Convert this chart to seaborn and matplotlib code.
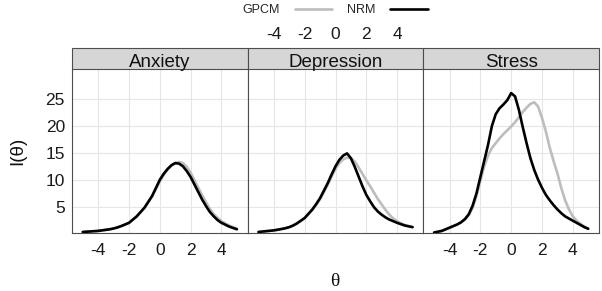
import numpy as np
import pandas as pd
import matplotlib
matplotlib.use('Agg')
import matplotlib.pyplot as plt
from matplotlib.patches import Rectangle
from matplotlib.lines import Line2D
import seaborn as sns

sns.set_style('white')
plt.rcParams['font.family'] = ['Liberation Sans', 'DejaVu Sans']
plt.rcParams['axes.unicode_minus'] = False

theta = np.arange(-5, 5.01, 0.25)
scales = ['Anxiety', 'Depression', 'Stress']
models = ['GPCM', 'NRM']

anx_nrm = [0.30, 0.35, 0.40, 0.45, 0.50, 0.60, 0.70, 0.80, 0.95, 1.15, 1.40, 1.70, 2.00, 2.60,
           3.20, 4.00, 4.80, 5.90, 7.00, 8.50, 10.0, 11.1, 12.0, 12.7, 13.1, 13.0, 12.5, 11.6,
           10.5, 9.10, 7.70, 6.30, 5.10, 4.00, 3.20, 2.50, 2.00, 1.65, 1.30, 1.05, 0.80]
anx_gpcm = [0.30, 0.35, 0.40, 0.45, 0.50, 0.60, 0.70, 0.80, 0.95, 1.15, 1.40, 1.70, 2.00, 2.60,
            3.20, 4.00, 4.80, 5.80, 6.90, 8.30, 9.70, 10.9, 11.9, 12.6, 13.1, 13.3, 13.1, 12.4,
            11.3, 9.90, 8.50, 7.10, 5.80, 4.60, 3.60, 2.90, 2.30, 1.90, 1.50, 1.20, 0.90]
dep_nrm = [0.30, 0.38, 0.45, 0.52, 0.60, 0.72, 0.85, 1.00, 1.20, 1.50, 1.90, 2.40, 2.90, 3.70,
           4.50, 5.50, 6.60, 8.00, 9.40, 11.0, 12.5, 13.7, 14.5, 14.9, 14.0, 12.4, 10.6, 8.80,
           7.20, 6.00, 4.90, 4.10, 3.50, 3.00, 2.60, 2.30, 2.00, 1.75, 1.50, 1.35, 1.20]
dep_gpcm = [0.30, 0.38, 0.45, 0.52, 0.60, 0.72, 0.85, 1.00, 1.20, 1.50, 1.90, 2.35, 2.85, 3.60,
            4.40, 5.35, 6.40, 7.70, 9.10, 10.6, 12.0, 13.1, 13.8, 14.1, 14.0, 13.4, 12.3, 11.1,
            9.90, 8.80, 7.60, 6.40, 5.40, 4.40, 3.50, 2.80, 2.30, 1.90, 1.60, 1.40, 1.20]
str_nrm = [0.20, 0.35, 0.50, 0.80, 1.10, 1.40, 1.70, 2.10, 2.70, 3.60, 5.20, 7.50, 10.5, 13.5,
           16.5, 20.0, 22.2, 23.3, 24.0, 24.8, 26.1, 25.5, 23.0, 19.8, 16.8, 14.0, 11.8, 10.0,
           8.50, 7.20, 6.20, 5.30, 4.50, 3.80, 3.20, 2.80, 2.40, 2.00, 1.60, 1.20, 0.90]
str_gpcm = [0.20, 0.35, 0.50, 0.80, 1.10, 1.40, 1.70, 2.10, 2.60, 3.40, 4.80, 7.00, 9.80, 12.5,
            14.5, 15.9, 16.8, 17.7, 18.5, 19.2, 19.9, 20.7, 21.6, 22.6, 23.4, 24.1, 24.4, 23.6,
            21.5, 19.0, 16.0, 13.5, 11.2, 8.50, 6.20, 4.50, 3.20, 2.40, 1.80, 1.30, 0.90]

curves = {
    ('Anxiety', 'GPCM'): anx_gpcm, ('Anxiety', 'NRM'): anx_nrm,
    ('Depression', 'GPCM'): dep_gpcm, ('Depression', 'NRM'): dep_nrm,
    ('Stress', 'GPCM'): str_gpcm, ('Stress', 'NRM'): str_nrm,
}
rows = []
for (sc, m), vals in curves.items():
    for t, v in zip(theta, vals):
        rows.append({'scale': sc, 'model': m, 'theta': t, 'info': v})
df = pd.DataFrame(rows)

palette = {'GPCM': '#bdbdbd', 'NRM': 'black'}
edge = '#4d4d4d'
strip_h = 21 / 164

fig, axes = plt.subplots(1, 3, figsize=(6.02, 2.91), dpi=100, sharey=True)
fig.subplots_adjust(left=72 / 602, right=599 / 602, bottom=1 - 233 / 291, top=1 - 69 / 291, wspace=0)

for i, (ax, sc) in enumerate(zip(axes, scales)):
    sub = df[df['scale'] == sc]
    sns.lineplot(data=sub, x='theta', y='info', hue='model', hue_order=models,
                 palette=palette, linewidth=1.9, estimator=None, sort=False,
                 legend=False, ax=ax)
    ax.set_xlim(-5.7, 5.7)
    ax.set_ylim(0.11, 30.58)
    ax.set_xticks([-4, -2, 0, 2, 4])
    ax.set_yticks([5, 10, 15, 20, 25])
    ax.grid(True, color='#e6e6e6', lw=0.8)
    ax.set_axisbelow(True)
    ax.set_xlabel('')
    ax.set_ylabel('')
    ax.spines['top'].set_visible(False)
    for s in ['left', 'right', 'bottom']:
        ax.spines[s].set_color(edge)
        ax.spines[s].set_linewidth(0.8)
    ax.tick_params(axis='x', direction='out', length=3.6, width=0.8, color=edge,
                   labelsize=12.5, pad=3.6, labelcolor='#1a1a1a')
    ax.tick_params(axis='y', direction='out', length=3.6, width=0.8, color=edge,
                   labelsize=12.5, pad=1.5, labelcolor='#1a1a1a')
    if i > 0:
        ax.tick_params(axis='y', left=False, labelleft=False)
    if i == 1:
        ax.tick_params(axis='x', labelbottom=False)
        sec = ax.secondary_xaxis(1 + strip_h)
        sec.set_xticks([-4, -2, 0, 2, 4])
        sec.tick_params(length=0, pad=4.3, labelsize=12.5, labelcolor='#1a1a1a')
        sec.spines['top'].set_visible(False)
    ax.add_patch(Rectangle((0, 1), 1, strip_h, transform=ax.transAxes, clip_on=False,
                           facecolor='#d6d6d6', edgecolor=edge, lw=0.8))
    ax.text(0.5, 1.012, sc, transform=ax.transAxes, ha='center', va='baseline',
            fontsize=13.5, color='#111111')

fig.text(18 / 602, 1 - 151 / 291, 'I(θ)', rotation=90, ha='center', va='center',
         fontsize=13.5, color='#111111')
fig.text(335 / 602, 1 - 282 / 291, 'θ', ha='center', va='center',
         fontsize=14, family=['Liberation Serif', 'DejaVu Serif'], color='#111111')

handles = [Line2D([], [], color=palette[m], lw=1.9) for m in models]
fig.legend(handles, models, loc='center', bbox_to_anchor=(335 / 602, 1 - 10 / 291),
           ncol=2, frameon=False, markerfirst=False, fontsize=9, handlelength=3,
           handletextpad=1.2, columnspacing=1.2)

fig.savefig('out.png', dpi=100)
